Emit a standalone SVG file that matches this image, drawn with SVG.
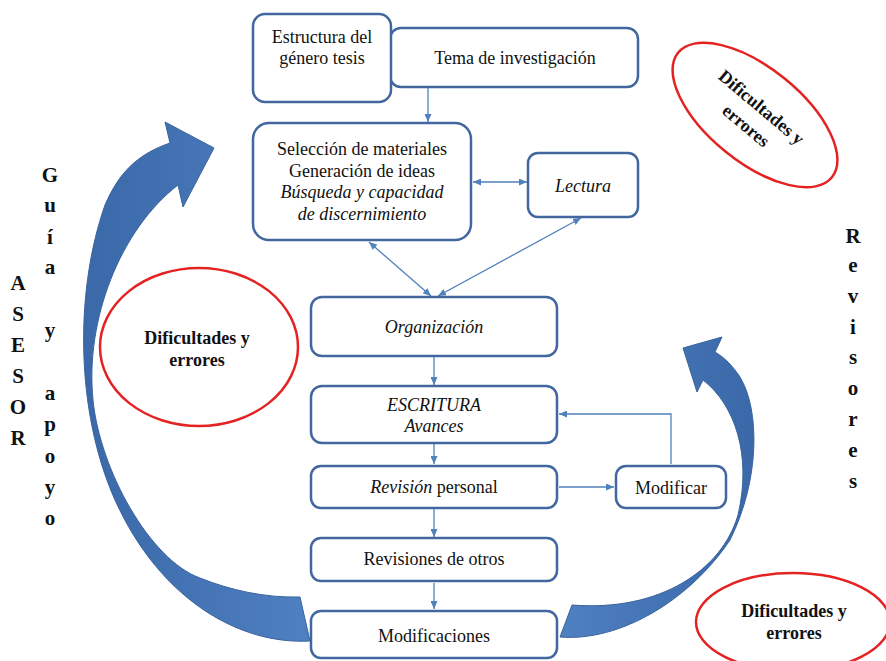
<svg xmlns="http://www.w3.org/2000/svg" width="886" height="661" viewBox="0 0 886 661">
<defs>
<style>
.box{fill:#fff;stroke:#41679E;stroke-width:2.5}
.t{font-family:"Liberation Serif",serif;font-size:18px;fill:#111;text-anchor:middle}
.i{font-style:italic}
.b{font-weight:bold}
.v{font-family:"Liberation Serif",serif;font-size:21px;font-weight:bold;fill:#111;text-anchor:middle}
.con{fill:none;stroke:#4F81BD;stroke-width:1.3}
.ell{fill:#fff;stroke:#E42222;stroke-width:2.5}
.big{stroke:#3A639E;stroke-width:1}
</style>
<linearGradient id="gl" x1="0" y1="0" x2="1" y2="0">
<stop offset="0" stop-color="#3A68A9"/>
<stop offset="1" stop-color="#4F80C1"/>
</linearGradient>
<linearGradient id="gr" x1="1" y1="0" x2="0" y2="0">
<stop offset="0" stop-color="#3A68A9"/>
<stop offset="1" stop-color="#4F80C1"/>
</linearGradient>
<marker id="ah" viewBox="0 0 8 7" refX="8" refY="3.5" markerWidth="8" markerHeight="7" markerUnits="userSpaceOnUse" orient="auto-start-reverse">
<path d="M0,0 L8,3.5 L0,7 z" fill="#4F81BD"/>
</marker>
</defs>
<rect width="886" height="661" fill="#fff"/>

<g id="big-arrows">
<path class="big" fill="url(#gl)" d="M310,641 C240,645 160,600 115,500 C75,410 75,290 105,205 C118,175 135,155 170,143 L165,122 L214,148 L183,207 L178,185 C120,230 85,320 93,400 C100,470 150,560 200,578 C230,590 265,598 300,597 Z"/>
<path class="big" fill="url(#gr)" d="M560,637 C620,642 690,600 730,540 C760,480 760,410 740,377 C732,365 725,358 715,352 L722,337 L683,348 L697,392 L703,380 C735,405 752,455 738,515 C722,570 660,612 572,605 Z"/>
</g>

<g id="ell-top">
<ellipse class="ell" cx="755" cy="115" rx="99" ry="47" transform="rotate(39 755 115)"/>
<g transform="rotate(40 755 115)">
<text class="t b" x="755" y="111" font-size="17">Dificultades y</text>
<text class="t b" x="755" y="135" font-size="17">errores</text>
</g>
</g>
<g id="ell-left">
<ellipse class="ell" cx="199" cy="347" rx="99" ry="79"/>
<text class="t b" x="197" y="344" font-size="17.5">Dificultades y</text>
<text class="t b" x="197" y="366" font-size="17.5">errores</text>
</g>
<g id="ell-bottom">
<ellipse class="ell" cx="793" cy="622" rx="97" ry="49"/>
<text class="t b" x="794" y="617" font-size="17.5">Dificultades y</text>
<text class="t b" x="794" y="639" font-size="17.5">errores</text>
</g>

<g id="label-asesor">
<text class="v" x="18" y="290">A</text>
<text class="v" x="18" y="321">S</text>
<text class="v" x="18" y="352">E</text>
<text class="v" x="18" y="383">S</text>
<text class="v" x="18" y="414">O</text>
<text class="v" x="18" y="445">R</text>
</g>
<g id="label-guia">
<text class="v" x="50" y="182">G</text>
<text class="v" x="50" y="212">u</text>
<text class="v" x="50" y="244">í</text>
<text class="v" x="50" y="274">a</text>
<text class="v" x="50" y="337">y</text>
<text class="v" x="50" y="400">a</text>
<text class="v" x="50" y="431">p</text>
<text class="v" x="50" y="463">o</text>
<text class="v" x="50" y="494">y</text>
<text class="v" x="50" y="525">o</text>
</g>
<g id="label-revisores">
<text class="v" x="853" y="243">R</text>
<text class="v" x="853" y="272">e</text>
<text class="v" x="853" y="303">v</text>
<text class="v" x="853" y="334">i</text>
<text class="v" x="853" y="364">s</text>
<text class="v" x="853" y="395">o</text>
<text class="v" x="853" y="426">r</text>
<text class="v" x="853" y="457">e</text>
<text class="v" x="853" y="488">s</text>
</g>

<g id="connectors">
<line class="con" x1="428" y1="88" x2="428" y2="122" marker-end="url(#ah)"/>
<line class="con" x1="473" y1="182" x2="527" y2="182" marker-start="url(#ah)" marker-end="url(#ah)"/>
<line class="con" x1="369" y1="242" x2="431" y2="296" marker-start="url(#ah)" marker-end="url(#ah)"/>
<line class="con" x1="581" y1="218" x2="438" y2="296" marker-start="url(#ah)" marker-end="url(#ah)"/>
<line class="con" x1="434" y1="357" x2="434" y2="385" marker-end="url(#ah)"/>
<line class="con" x1="434" y1="444" x2="434" y2="464" marker-end="url(#ah)"/>
<line class="con" x1="434" y1="509" x2="434" y2="537" marker-end="url(#ah)"/>
<line class="con" x1="434" y1="583" x2="434" y2="609" marker-end="url(#ah)"/>
<line class="con" x1="559" y1="487" x2="614" y2="487" marker-end="url(#ah)"/>
<polyline class="con" points="671,464 671,414 559,414" marker-end="url(#ah)"/>
</g>

<g id="n-tema">
<rect class="box" x="390" y="28" width="248" height="59" rx="11"/>
<text class="t" x="515" y="64">Tema de investigación</text>
</g>
<g id="n-estructura">
<rect class="box" x="253" y="14" width="138" height="88" rx="12"/>
<text class="t" x="322" y="43">Estructura del</text>
<text class="t" x="322" y="64">género tesis</text>
</g>
<g id="n-seleccion">
<rect class="box" x="253" y="123" width="218" height="117" rx="16"/>
<text class="t" x="362" y="155">Selección de materiales</text>
<text class="t" x="362" y="177">Generación de ideas</text>
<text class="t i" x="362" y="198">Búsqueda y capacidad</text>
<text class="t i" x="362" y="220">de discernimiento</text>
</g>
<g id="n-lectura">
<rect class="box" x="528" y="153" width="110" height="64" rx="10"/>
<text class="t i" x="583" y="192">Lectura</text>
</g>
<g id="n-organizacion">
<rect class="box" x="311" y="297" width="246" height="59" rx="11"/>
<text class="t i" x="434" y="333">Organización</text>
</g>
<g id="n-escritura">
<rect class="box" x="311" y="386" width="246" height="57" rx="11"/>
<text class="t i" x="434" y="411">ESCRITURA</text>
<text class="t i" x="434" y="432">Avances</text>
</g>
<g id="n-revision">
<rect class="box" x="311" y="466" width="246" height="42" rx="10"/>
<text class="t" x="434" y="493"><tspan class="i">Revisión</tspan> personal</text>
</g>
<g id="n-modificar">
<rect class="box" x="616" y="466" width="110" height="42" rx="10"/>
<text class="t" x="671" y="494">Modificar</text>
</g>
<g id="n-revisiones">
<rect class="box" x="311" y="538" width="246" height="43" rx="10"/>
<text class="t" x="434" y="565">Revisiones de otros</text>
</g>
<g id="n-modificaciones">
<rect class="box" x="311" y="611" width="246" height="47" rx="10"/>
<text class="t" x="434" y="642">Modificaciones</text>
</g>
</svg>
